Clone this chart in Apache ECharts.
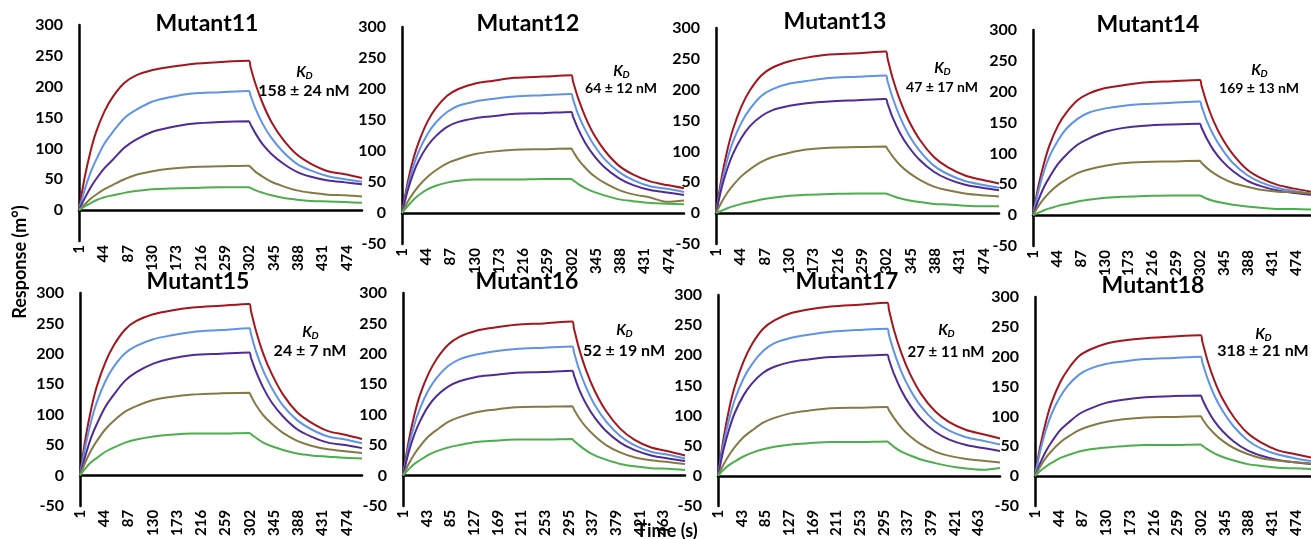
<!DOCTYPE html>
<html>
<head>
<meta charset="utf-8">
<script src="https://cdn.jsdelivr.net/npm/echarts@6/dist/echarts.min.js"></script>
<style>
  html, body { margin: 0; padding: 0; background: #fff; }
  #chart { width: 1311px; height: 539px; }
</style>
</head>
<body>
<div id="chart"></div>
<script>
// sample times (axis position; Excel category label = position + 1)
var times = [0, 10, 20, 30, 45, 60, 80, 100, 130, 160, 200, 250, 300, 303, 312, 325, 340, 360, 385, 410, 440, 470, 500];

var panelNames = ['Mutant11', 'Mutant12', 'Mutant13', 'Mutant14', 'Mutant15', 'Mutant16', 'Mutant17', 'Mutant18'];
var kdValues = ['158 \u00b1 24 nM', '64 \u00b1 12 nM', '47 \u00b1 17 nM', '169 \u00b1 13 nM',
                '24 \u00b1 7 nM', '52 \u00b1 19 nM', '27 \u00b1 11 nM', '318 \u00b1 21 nM'];
var labelSteps = [43, 43, 43, 43, 43, 42, 42, 43];
var yTicks = [-50, 0, 50, 100, 150, 200, 250, 300];

// response curves, highest to lowest concentration
var mutant11 = [
    [0, 53, 94, 126, 160, 184, 206, 218, 227, 232, 237, 240, 242, 232, 204, 172, 143, 115, 90, 75, 63, 58, 52],
    [0, 33, 60, 81, 108, 127, 149, 162, 176, 183, 189, 191, 193, 186, 164, 139, 117, 95, 75, 64, 55, 50, 46],
    [0, 19, 36, 50, 68, 82, 101, 114, 127, 134, 140, 143, 144, 139, 124, 106, 91, 76, 62, 54, 48, 45, 42],
    [0, 9, 18, 25, 34, 41, 50, 57, 63, 67, 70, 71, 72, 70, 62, 54, 46, 39, 32, 28, 25, 24, 22],
    [0, 6, 11, 16, 21, 24, 28, 31, 34, 35, 36, 37, 37, 36, 32, 28, 24, 20, 17, 15, 14, 13, 12]
];
var mutant12 = [
    [0, 49, 87, 115, 147, 169, 189, 200, 209, 213, 218, 220, 222, 213, 186, 155, 127, 100, 76, 62, 51, 45, 40],
    [0, 42, 75, 100, 127, 146, 163, 173, 180, 184, 188, 190, 192, 184, 160, 134, 110, 86, 66, 53, 43, 39, 34],
    [0, 36, 64, 85, 108, 124, 139, 147, 153, 156, 160, 161, 163, 156, 136, 113, 93, 73, 56, 45, 37, 33, 29],
    [0, 18, 32, 44, 58, 69, 80, 87, 95, 99, 102, 103, 104, 100, 87, 73, 60, 48, 37, 30, 25, 18, 20],
    [0, 11, 21, 29, 38, 44, 49, 52, 54, 54, 54, 55, 55, 53, 47, 40, 34, 28, 22, 19, 16, 15, 14]
];
var mutant13 = [
    [0, 58, 102, 136, 173, 199, 223, 236, 246, 252, 257, 259, 262, 251, 219, 183, 151, 119, 91, 74, 61, 54, 48],
    [0, 49, 87, 116, 147, 169, 190, 201, 210, 214, 219, 221, 223, 214, 187, 156, 128, 101, 77, 63, 52, 46, 41],
    [0, 41, 72, 96, 122, 141, 157, 167, 174, 178, 181, 183, 185, 178, 155, 130, 108, 86, 67, 55, 46, 41, 37],
    [0, 18, 33, 45, 60, 71, 83, 91, 98, 103, 106, 107, 108, 104, 92, 78, 66, 54, 43, 37, 32, 29, 27],
    [0, 4, 8, 11, 15, 18, 22, 25, 28, 30, 31, 32, 32, 31, 28, 24, 21, 18, 15, 14, 12, 11, 11]
];
var mutant14 = [
    [0, 48, 85, 114, 145, 166, 186, 197, 206, 210, 215, 217, 219, 210, 183, 152, 125, 98, 74, 60, 49, 43, 38],
    [0, 40, 72, 96, 121, 140, 156, 166, 173, 177, 180, 182, 184, 177, 154, 129, 107, 84, 65, 53, 44, 39, 35],
    [0, 25, 46, 62, 83, 98, 114, 124, 135, 141, 145, 147, 148, 142, 125, 105, 88, 71, 56, 47, 40, 36, 33],
    [0, 15, 27, 37, 49, 58, 68, 74, 80, 84, 86, 87, 88, 85, 77, 68, 60, 52, 46, 41, 38, 37, 35],
    [0, 4, 8, 11, 15, 18, 22, 25, 28, 30, 31, 32, 32, 31, 27, 23, 20, 17, 14, 12, 10, 10, 9]
];
var mutant15 = [
    [0, 62, 110, 147, 186, 214, 240, 254, 265, 271, 276, 279, 282, 271, 238, 200, 167, 133, 104, 87, 73, 67, 60],
    [0, 50, 90, 121, 155, 179, 201, 213, 224, 230, 236, 239, 242, 233, 204, 172, 144, 115, 91, 76, 64, 59, 53],
    [0, 34, 63, 85, 113, 133, 156, 170, 184, 192, 198, 200, 202, 194, 171, 144, 120, 97, 76, 64, 54, 50, 45],
    [0, 23, 42, 57, 76, 90, 105, 114, 124, 129, 133, 135, 136, 131, 116, 99, 85, 70, 57, 49, 43, 40, 37],
    [0, 12, 22, 29, 39, 46, 54, 59, 64, 67, 69, 69, 70, 68, 62, 54, 48, 42, 36, 33, 31, 29, 28]
];
var mutant16 = [
    [0, 56, 99, 132, 167, 192, 215, 228, 238, 243, 248, 250, 253, 242, 209, 172, 139, 106, 77, 59, 46, 40, 33],
    [0, 47, 83, 110, 140, 161, 180, 191, 199, 204, 208, 210, 212, 203, 175, 144, 116, 89, 65, 50, 39, 34, 28],
    [0, 38, 67, 89, 114, 131, 146, 155, 162, 165, 169, 170, 172, 165, 142, 117, 95, 73, 54, 42, 33, 28, 24],
    [0, 19, 35, 48, 64, 75, 88, 96, 104, 108, 112, 113, 114, 109, 95, 79, 65, 50, 38, 30, 25, 22, 19],
    [0, 10, 19, 25, 34, 40, 46, 50, 55, 57, 59, 59, 60, 57, 50, 41, 33, 26, 19, 15, 12, 11, 9]
];
var mutant17 = [
    [0, 63, 112, 149, 189, 218, 244, 258, 270, 276, 281, 284, 287, 276, 242, 204, 170, 136, 107, 89, 76, 69, 62],
    [0, 54, 95, 127, 161, 185, 207, 220, 229, 234, 239, 242, 244, 234, 206, 173, 144, 115, 90, 75, 64, 58, 52],
    [0, 44, 78, 105, 133, 153, 171, 181, 189, 193, 197, 199, 201, 193, 169, 142, 118, 94, 73, 60, 51, 46, 41],
    [0, 19, 35, 48, 64, 75, 88, 96, 104, 108, 112, 113, 114, 109, 96, 80, 66, 52, 40, 33, 28, 25, 22],
    [0, 10, 18, 24, 32, 38, 44, 48, 52, 54, 56, 56, 57, 55, 48, 40, 34, 27, 21, 16, 12, 10, 13]
];
var mutant18 = [
    [0, 52, 92, 123, 156, 179, 201, 212, 222, 227, 231, 234, 236, 226, 195, 160, 129, 99, 72, 56, 43, 37, 31],
    [0, 44, 78, 104, 132, 152, 170, 180, 188, 192, 196, 198, 200, 191, 165, 135, 109, 83, 60, 46, 36, 30, 25],
    [0, 23, 42, 57, 76, 89, 104, 113, 123, 128, 132, 134, 135, 129, 112, 92, 75, 58, 43, 34, 27, 23, 20],
    [0, 17, 31, 42, 56, 66, 77, 84, 91, 95, 98, 99, 100, 96, 84, 71, 59, 47, 37, 30, 26, 23, 21],
    [0, 9, 16, 22, 30, 35, 41, 45, 48, 50, 52, 52, 53, 51, 45, 38, 32, 26, 20, 17, 14, 13, 12]
];
var panelData = [mutant11, mutant12, mutant13, mutant14, mutant15, mutant16, mutant17, mutant18];

var lineColors = ['#A3161D', '#5F93E6', '#4F2C95', '#857A46', '#4CAE4C'];

// pixel layout of the eight small plots
var grids = [
    {left: 79, top: 25, width: 283, height: 216},
    {left: 402, top: 27, width: 282, height: 217},
    {left: 716, top: 28, width: 283, height: 216},
    {left: 1033, top: 30, width: 285, height: 216},
    {left: 80, top: 293, width: 282, height: 215},
    {left: 403, top: 293, width: 282, height: 215},
    {left: 718, top: 295, width: 282, height: 213},
    {left: 1035, top: 297, width: 285, height: 215}
];
var titlePos = [[207, 24], [528, 24], [835, 22], [1148, 25], [198, 282], [527, 282], [847, 282], [1153, 286]];
var kdPos = [[304, 72, 91, 16], [621, 71, 88, 14], [942, 68, 87, 14], [1259, 70, 88, 14],
             [310, 332, 351, 16], [624, 330, 351, 16], [946, 330, 352, 15], [1263, 334, 351, 16]];

var FONT = 'Lato, "Liberation Sans", sans-serif';

var option = {
    backgroundColor: '#fff',
    animation: false,
    grid: [],
    xAxis: [],
    yAxis: [],
    series: [],
    graphic: []
};

for (var p = 0; p < 8; p++) {
    var g = grids[p];
    option.grid.push({left: g.left, top: g.top, width: g.width, height: g.height, containLabel: false});
    option.xAxis.push({
        type: 'value',
        gridIndex: p,
        min: 0,
        max: 500,
        interval: labelSteps[p],
        axisLine: {onZero: true, lineStyle: {color: '#000', width: 2.5}},
        axisTick: {show: false},
        splitLine: {show: false},
        axisLabel: {
            rotate: 90,
            margin: 4,
            showMaxLabel: false,
            color: '#000',
            fontSize: 15,
            fontWeight: 'bold',
            fontFamily: FONT,
            formatter: function (v) { return String(v + 1); }
        }
    });
    option.yAxis.push({
        type: 'value',
        gridIndex: p,
        min: yTicks[0],
        max: yTicks[yTicks.length - 1],
        interval: 50,
        axisLine: {show: true, lineStyle: {color: '#000', width: 2.5}},
        axisTick: {show: false},
        splitLine: {show: false},
        axisLabel: {
            margin: 16,
            color: '#000',
            fontSize: 16,
            fontWeight: 'bold',
            fontFamily: FONT,
            formatter: (function (idx) {
                return function (v) { return (idx === 0 && v < 0) ? '' : String(v); };
            })(p)
        }
    });
    for (var s = 0; s < 5; s++) {
        var vals = panelData[p][s];
        option.series.push({
            type: 'line',
            xAxisIndex: p,
            yAxisIndex: p,
            showSymbol: false,
            smooth: 0.3,
            lineStyle: {width: 2, color: lineColors[s]},
            itemStyle: {color: lineColors[s]},
            data: times.map(function (t, i) { return [t, vals[i]]; })
        });
    }
    option.graphic.push({
        type: 'text', x: titlePos[p][0], y: titlePos[p][1],
        style: {text: panelNames[p], fill: '#000', font: 'bold 23px ' + FONT, align: 'center', verticalAlign: 'middle'}
    });
    var k = kdPos[p];
    option.graphic.push({
        type: 'text', x: k[0] - 3, y: k[1],
        style: {text: 'K', fill: '#000', font: 'italic bold 15px ' + FONT, align: 'center', verticalAlign: 'middle'}
    });
    option.graphic.push({
        type: 'text', x: k[0] + 5, y: k[1] + 4,
        style: {text: 'D', fill: '#000', font: 'italic bold 10px ' + FONT, align: 'center', verticalAlign: 'middle'}
    });
    option.graphic.push({
        type: 'text', x: k[0], y: k[2],
        style: {text: kdValues[p], fill: '#000', font: 'bold ' + k[3] + 'px ' + FONT, align: 'center', verticalAlign: 'middle'}
    });
}

option.graphic.push({
    type: 'text', x: 20, y: 262, rotation: Math.PI / 2,
    style: {text: 'Response (m\u00b0)', fill: '#000', font: 'bold 18px ' + FONT, align: 'center', verticalAlign: 'middle'}
});
option.graphic.push({
    type: 'text', x: 667, y: 531,
    style: {text: 'Time (s)', fill: '#000', font: 'bold 18px ' + FONT, align: 'center', verticalAlign: 'middle'}
});

var chart = echarts.init(document.getElementById('chart'), null, {renderer: 'canvas'});
chart.setOption(option);
</script>
</body>
</html>
